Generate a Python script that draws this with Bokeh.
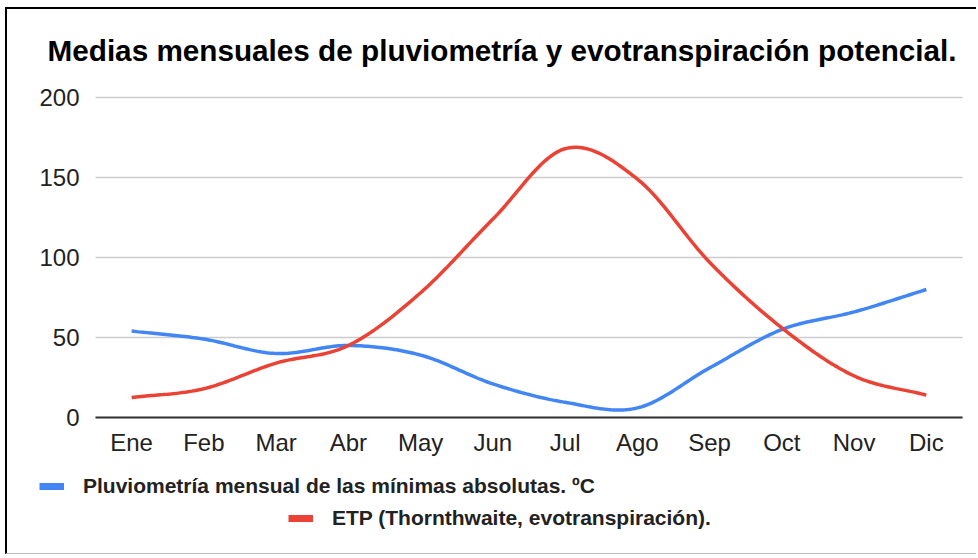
import numpy as np
from bokeh.plotting import figure
from bokeh.models import Range1d, FixedTicker, Legend, LegendItem, Label
from bokeh.embed import file_html
from bokeh.resources import INLINE

months = ["Ene", "Feb", "Mar", "Abr", "May", "Jun", "Jul", "Ago", "Sep", "Oct", "Nov", "Dic"]
pluvio = [54, 49, 40, 45, 39, 21, 9.5, 6, 31, 55, 66, 80]
etp = [12.5, 18, 34, 45, 78, 124, 168, 149, 97, 56, 26, 14]
y_ticks = [0, 50, 100, 150, 200]
y_max = 200

label_pluvio = "Pluviometría mensual de las mínimas absolutas. ºC"
label_etp = "ETP (Thornthwaite, evotranspiración)."
title_text = "Medias mensuales de pluviometría y evotranspiración potencial."

BLUE = "#4285F4"
RED = "#EA4335"
FONT = "Liberation Sans"

# layout (pixels inside the figure)
FIG_W, FIG_H = 971, 547
AREA_L, AREA_R, AREA_T, AREA_B = 88, 16, 88, 139


def smooth(xs, ys, n=30):
    """Cardinal (Catmull-Rom) curve through the data points, for drawing only."""
    xs = np.asarray(xs, float)
    ys = np.asarray(ys, float)
    m = np.zeros_like(ys)
    m[1:-1] = (ys[2:] - ys[:-2]) / 2.0
    m[0] = (ys[1] - ys[0])
    m[-1] = (ys[-1] - ys[-2])
    ox, oy = [], []
    for i in range(len(xs) - 1):
        t = np.linspace(0, 1, n, endpoint=(i == len(xs) - 2))
        h00 = 2 * t**3 - 3 * t**2 + 1
        h10 = t**3 - 2 * t**2 + t
        h01 = -2 * t**3 + 3 * t**2
        h11 = t**3 - t**2
        ox.extend(xs[i] + t * (xs[i + 1] - xs[i]))
        oy.extend(h00 * ys[i] + h10 * m[i] + h01 * ys[i + 1] + h11 * m[i + 1])
    return ox, oy


xidx = list(range(len(months)))
x_lo, x_hi = -0.5, len(months) - 0.5
ppx = (FIG_W - AREA_L - AREA_R) / (x_hi - x_lo)
ppy = (FIG_H - AREA_T - AREA_B) / y_max

p = figure(width=FIG_W, height=FIG_H, output_backend="svg", toolbar_location=None,
           x_range=Range1d(x_lo - AREA_L / ppx, x_hi + AREA_R / ppx),
           y_range=Range1d(-AREA_B / ppy, y_max + AREA_T / ppy),
           min_border=0, x_axis_location="below", y_axis_location="left",
           styles={"margin-left": "5px", "margin-top": "7px",
                   "border-left": "2px solid black", "border-top": "2px solid black",
                   "border-bottom": "1px solid #bbbbbb"})
p.title.visible = False
p.outline_line_color = None
p.background_fill_color = "white"
p.border_fill_color = "white"

# axes at fixed positions inside the frame
p.xaxis.fixed_location = 0
p.xaxis.bounds = (x_lo, x_hi)
p.xaxis.ticker = FixedTicker(ticks=xidx)
p.xaxis.major_label_overrides = {i: m for i, m in enumerate(months)}
p.xaxis.major_tick_line_color = None
p.xaxis.minor_tick_line_color = None
p.xaxis.axis_line_color = "#333333"
p.xaxis.axis_line_width = 2
p.xaxis.major_label_text_font = FONT
p.xaxis.major_label_text_font_size = "24px"
p.xaxis.major_label_text_color = "#222222"
p.xaxis.major_label_standoff = 5

p.yaxis.fixed_location = x_lo
p.yaxis.ticker = FixedTicker(ticks=y_ticks)
p.yaxis.major_tick_line_color = None
p.yaxis.minor_tick_line_color = None
p.yaxis.axis_line_color = None
p.yaxis.major_label_text_font = FONT
p.yaxis.major_label_text_font_size = "24px"
p.yaxis.major_label_text_color = "#222222"
p.yaxis.major_label_standoff = 10

p.xgrid.grid_line_color = None
p.ygrid.grid_line_color = "#cccccc"
p.ygrid.grid_line_width = 1.5
p.ygrid.cross_bounds = (x_lo, x_hi)

bx, by = smooth(xidx, pluvio)
rx, ry = smooth(xidx, etp)
p.line(bx, by, line_color=BLUE, line_width=3.5)
p.line(rx, ry, line_color=RED, line_width=3.5)

# title
p.add_layout(Label(x=40, y=FIG_H - 41, x_units="screen", y_units="screen", text=title_text,
                   text_font=FONT, text_font_size="29.7px", text_font_style="bold",
                   text_color="#000000", text_baseline="alphabetic", text_align="left"))

# legend swatches (one NaN point each: nothing drawn on the chart)
nan = float("nan")
sw_b = p.line(x=[nan], y=[nan], line_color=BLUE, line_width=7)
sw_r = p.line(x=[nan], y=[nan], line_color=RED, line_width=7)


def make_legend(label, rend, loc):
    return Legend(items=[LegendItem(label=label, renderers=[rend])], location=loc,
                  border_line_color=None, background_fill_alpha=0,
                  padding=0, margin=0, glyph_width=25, glyph_height=24, label_height=24,
                  label_standoff=19, label_text_font=FONT, label_text_font_size="21px",
                  label_text_font_style="bold", label_text_color="#222222")


p.add_layout(make_legend(label_pluvio, sw_b, (32, 58.5)), "center")
p.add_layout(make_legend(label_etp, sw_r, (281, 26)), "center")

open("out.html", "w").write(file_html(p, INLINE))
